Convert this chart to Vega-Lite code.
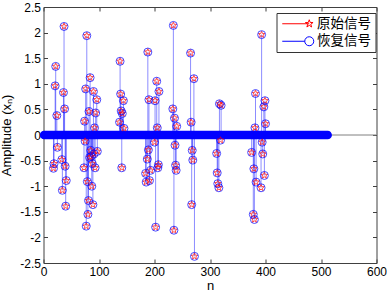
{
  "$schema": "https://vega.github.io/schema/vega-lite/v6.json",
  "width": 333,
  "height": 256,
  "autosize": {"type": "none"},
  "padding": {"left": 43.5, "top": 7, "right": 10, "bottom": 32},
  "background": "white",
  "config": {
    "view": {"stroke": "#404040", "strokeWidth": 1},
    "axis": {
      "domain": false,
      "grid": false,
      "tickColor": "#404040",
      "tickSize": -4,
      "labelFont": "Liberation Sans",
      "labelFontSize": 12,
      "labelColor": "#000000",
      "labelPadding": 7,
      "labelFlush": false,
      "labelOverlap": false,
      "titleFont": "Liberation Sans",
      "titleFontSize": 13,
      "titleFontWeight": "normal",
      "titleColor": "#000000"
    }
  },
  "datasets": {
    "coef": [
      {"n":18,"v":-0.65},{"n":19,"v":-0.56},{"n":21,"v":0.96},{"n":22,"v":1.34},{"n":24,"v":0.38},{"n":25,"v":-0.24},{"n":33,"v":-0.48},{"n":34,"v":-1.08},{"n":36,"v":0.83},{"n":37,"v":2.12},{"n":38,"v":0.51},{"n":39,"v":-0.61},{"n":40,"v":-1.39},{"n":41,"v":-0.89},
      {"n":73,"v":-0.64},{"n":74,"v":0.27},{"n":75,"v":-0.12},{"n":76,"v":0.9},{"n":77,"v":-1.78},{"n":78,"v":1.94},{"n":79,"v":-0.91},{"n":80,"v":-1.55},{"n":81,"v":-1.28},{"n":82,"v":0.46},{"n":83,"v":-0.44},{"n":84,"v":1.12},{"n":85,"v":-0.3},{"n":86,"v":-0.42},{"n":87,"v":-1.0},{"n":88,"v":-0.56},{"n":89,"v":-1.36},{"n":90,"v":0.85},{"n":91,"v":-0.37},{"n":92,"v":0.14},{"n":93,"v":-0.64},{"n":94,"v":0.43},{"n":96,"v":0.69},{"n":97,"v":-0.32},
      {"n":137,"v":0.25},{"n":138,"v":1.44},{"n":139,"v":0.8},{"n":140,"v":0.47},{"n":141,"v":-0.64},{"n":142,"v":0.42},{"n":144,"v":0.67},{"n":145,"v":0.13},
      {"n":184,"v":-0.75},{"n":185,"v":-0.92},{"n":187,"v":-0.47},{"n":188,"v":1.62},{"n":189,"v":-0.29},{"n":190,"v":0.69},{"n":191,"v":-0.89},{"n":193,"v":-0.69},{"n":200,"v":-0.14},{"n":201,"v":0.67},{"n":202,"v":-1.8},{"n":204,"v":1.05},{"n":205,"v":0.14},{"n":206,"v":-0.64},{"n":207,"v":-0.58},{"n":208,"v":0.85},
      {"n":233,"v":0.51},{"n":234,"v":2.14},{"n":235,"v":-1.86},{"n":236,"v":0.33},{"n":237,"v":-0.2},{"n":238,"v":-0.59},{"n":239,"v":-0.69},{"n":240,"v":0.17},
      {"n":265,"v":1.6},{"n":266,"v":0.25},{"n":267,"v":-1.36},{"n":268,"v":-0.3},{"n":269,"v":-0.49},{"n":271,"v":1.1},{"n":272,"v":-2.37},
      {"n":312,"v":-0.36},{"n":313,"v":-0.74},{"n":314,"v":-0.95},{"n":316,"v":-1.03},{"n":317,"v":0.61},{"n":319,"v":-0.1},{"n":320,"v":0.58},
      {"n":375,"v":-0.34},{"n":378,"v":-1.55},{"n":379,"v":-0.66},{"n":380,"v":-1.65},{"n":381,"v":0.14},{"n":382,"v":0.81},{"n":383,"v":-0.92},{"n":392,"v":-1.03},{"n":393,"v":1.96},{"n":394,"v":-0.14},{"n":395,"v":-0.37},{"n":397,"v":0.55},{"n":398,"v":-0.79},{"n":399,"v":0.67},{"n":400,"v":0.22}
    ],
    "band": [{"a": 1, "b": 512}],
    "series": [{"s": "原始信号"}, {"s": "恢复信号"}]
  },
  "resolve": {"axis": {"x": "independent", "y": "independent"}},
  "layer": [
    {
      "data": {"name": "band"},
      "mark": {"type": "rule", "color": "#808080", "strokeWidth": 1},
      "encoding": {
        "y": {"datum": 0, "type": "quantitative", "scale": {"domain": [-2.5, 2.5], "nice": false}, "axis": null}
      }
    },
    {
      "data": {"name": "coef"},
      "mark": {"type": "rule", "color": "#0000ff", "opacity": 0.45, "strokeWidth": 1},
      "encoding": {
        "x": {"field": "n", "type": "quantitative", "scale": {"domain": [0, 600], "nice": false, "zero": false},
              "axis": {"orient": "bottom", "values": [0,100,200,300,400,500,600], "title": "n", "titlePadding": 2, "labelExpr": "'' + datum.value"}},
        "y": {"field": "v", "type": "quantitative", "scale": {"domain": [-2.5, 2.5], "nice": false},
              "axis": {"orient": "left", "values": [-2.5,-2,-1.5,-1,-0.5,0,0.5,1,1.5,2,2.5], "title": "Amplitude (xₙ)", "titlePadding": 6, "labelExpr": "'' + datum.value"}},
        "y2": {"datum": 0}
      }
    },
    {
      "data": {"name": "band"},
      "mark": {"type": "rule", "color": "#0000ff", "strokeWidth": 8.5, "strokeCap": "round"},
      "encoding": {
        "x": {"field": "a", "type": "quantitative", "scale": {"domain": [0, 600], "nice": false, "zero": false}, "axis": null},
        "x2": {"field": "b"},
        "y": {"datum": 0, "type": "quantitative", "scale": {"domain": [-2.5, 2.5], "nice": false}, "axis": null}
      }
    },
    {
      "data": {"name": "coef"},
      "mark": {"type": "point", "shape": "M0,-1L0.235,-0.324L0.951,-0.309L0.38,0.124L0.588,0.809L0,0.4L-0.588,0.809L-0.38,0.124L-0.951,-0.309L-0.235,-0.324Z", "filled": false, "color": "#ff0000", "size": 49, "strokeWidth": 1},
      "encoding": {
        "x": {"field": "n", "type": "quantitative", "scale": {"domain": [0, 600], "nice": false, "zero": false}, "axis": null},
        "y": {"field": "v", "type": "quantitative", "scale": {"domain": [-2.5, 2.5], "nice": false}, "axis": null}
      }
    },
    {
      "data": {"name": "coef"},
      "mark": {"type": "point", "shape": "circle", "filled": false, "color": "#0000ff", "size": 64, "strokeWidth": 1},
      "encoding": {
        "x": {"field": "n", "type": "quantitative", "scale": {"domain": [0, 600], "nice": false, "zero": false},
              "axis": {"orient": "top", "labels": false, "title": null, "values": [0,100,200,300,400,500,600]}},
        "y": {"field": "v", "type": "quantitative", "scale": {"domain": [-2.5, 2.5], "nice": false},
              "axis": {"orient": "right", "labels": false, "title": null, "values": [-2.5,-2,-1.5,-1,-0.5,0,0.5,1,1.5,2,2.5]}}
      }
    },
    {
      "data": {"name": "series"},
      "mark": {"type": "point", "filled": false, "strokeWidth": 1, "size": 100, "opacity": 0},
      "encoding": {
        "stroke": {"field": "s", "type": "nominal",
                   "scale": {"domain": ["原始信号", "恢复信号"], "range": ["#ff0000", "#0000ff"]},
                   "legend": {"orient": "none", "legendX": 233, "legendY": 6, "title": null,
                              "padding": 4, "strokeColor": "#333333", "fillColor": "#ffffff",
                              "symbolOffset": 22, "labelOffset": 1, "symbolSize": 100, "symbolStrokeWidth": 1, "symbolOpacity": 1,
                              "labelFont": "Noto Sans CJK SC", "labelFontSize": 13.5, "labelColor": "#000000", "rowPadding": 2.5}},
        "shape": {"field": "s", "type": "nominal",
                  "scale": {"domain": ["原始信号", "恢复信号"],
                            "range": ["M-5.4,0L0,0M0,-0.8L0.188,-0.259L0.761,-0.247L0.304,0.099L0.47,0.647L0,0.32L-0.47,0.647L-0.304,0.099L-0.761,-0.247L-0.188,-0.259Z",
                                      "M-5.4,0L-0.9,0M0.9,0L0.832,0.344L0.636,0.636L0.344,0.832L0,0.9L-0.344,0.832L-0.636,0.636L-0.832,0.344L-0.9,0L-0.832,-0.344L-0.636,-0.636L-0.344,-0.832L0,-0.9L0.344,-0.832L0.636,-0.636L0.832,-0.344Z"]}}
      }
    }
  ]
}
